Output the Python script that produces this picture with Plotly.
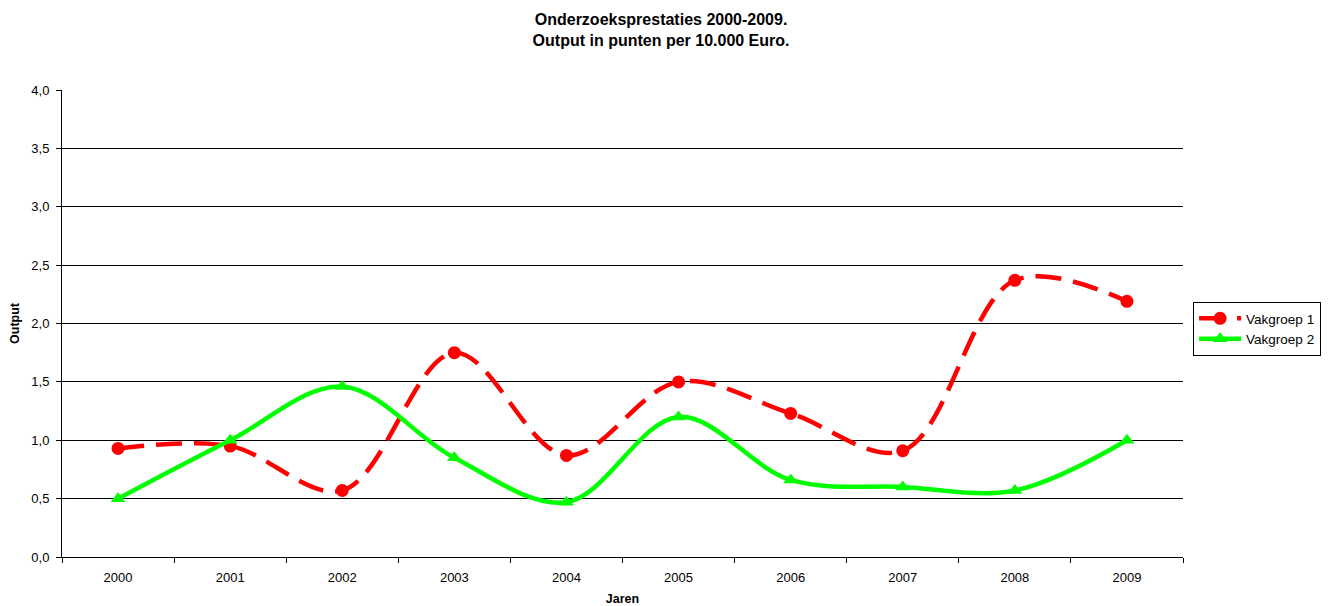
import plotly.graph_objects as go

years = ["2000", "2001", "2002", "2003", "2004", "2005", "2006", "2007", "2008", "2009"]
vakgroep1 = [0.93, 0.95, 0.57, 1.75, 0.87, 1.50, 1.23, 0.91, 2.37, 2.19]
vakgroep2 = [0.50, 1.00, 1.46, 0.85, 0.47, 1.20, 0.66, 0.60, 0.57, 1.00]
y_ticks = [0, 0.5, 1.0, 1.5, 2.0, 2.5, 3.0, 3.5, 4.0]

font = "Liberation Sans, Arial, sans-serif"

fig = go.Figure()
fig.add_trace(go.Scatter(
    x=years, y=vakgroep1, name="Vakgroep 1", mode="lines+markers",
    line=dict(color="#FF0000", width=4.5, dash="26px,12px", shape="spline", smoothing=1.0),
    marker=dict(symbol="circle", size=13, color="#FF0000"),
))
fig.add_trace(go.Scatter(
    x=years, y=vakgroep2, name="Vakgroep 2", mode="lines+markers",
    line=dict(color="#00FF00", width=4.5, shape="spline", smoothing=1.0),
    marker=dict(symbol="triangle-up", size=13, color="#00FF00"),
))

fig.update_layout(
    width=1326, height=598,
    margin=dict(l=54, r=151, t=82, b=49, autoexpand=False),
    paper_bgcolor="white", plot_bgcolor="white",
    separators=",.",
    font=dict(family=font, size=12, color="black"),
    title=dict(
        text="<b>Onderzoeksprestaties 2000-2009.<br>Output in punten per 10.000 Euro.</b>",
        x=0.4925, xanchor="center", y=0.972, yanchor="top",
        font=dict(family=font, size=16, color="black"),
    ),
    legend=dict(
        x=1.009, xanchor="left", y=0.546, yanchor="top",
        bordercolor="black", borderwidth=1, bgcolor="white",
        font=dict(family=font, size=13.5, color="black"),
        tracegroupgap=0, itemwidth=42,
    ),
    showlegend=True,
)
fig.update_xaxes(
    type="category", tickson="boundaries", ticks="outside", ticklen=5,
    tickcolor="black", showline=True, linecolor="black", linewidth=1,
    showgrid=False, range=[-0.5, 9.5], automargin=False,
    tickfont=dict(family=font, size=13), ticklabelstandoff=8,
    title=dict(text="<b>Jaren</b>", font=dict(family=font, size=12.5), standoff=22),
)
fig.update_yaxes(
    range=[0, 4], tickvals=y_ticks, tickformat=".1f", ticks="outside", ticklen=5,
    tickcolor="black", showline=True, linecolor="black", linewidth=1,
    showgrid=True, gridcolor="black", gridwidth=1, zeroline=False, automargin=False,
    tickfont=dict(family=font, size=13), ticklabelstandoff=4,
    title=dict(text="<b>Output</b>", font=dict(family=font, size=12.5), standoff=10),
)

fig.write_html("out.html")
